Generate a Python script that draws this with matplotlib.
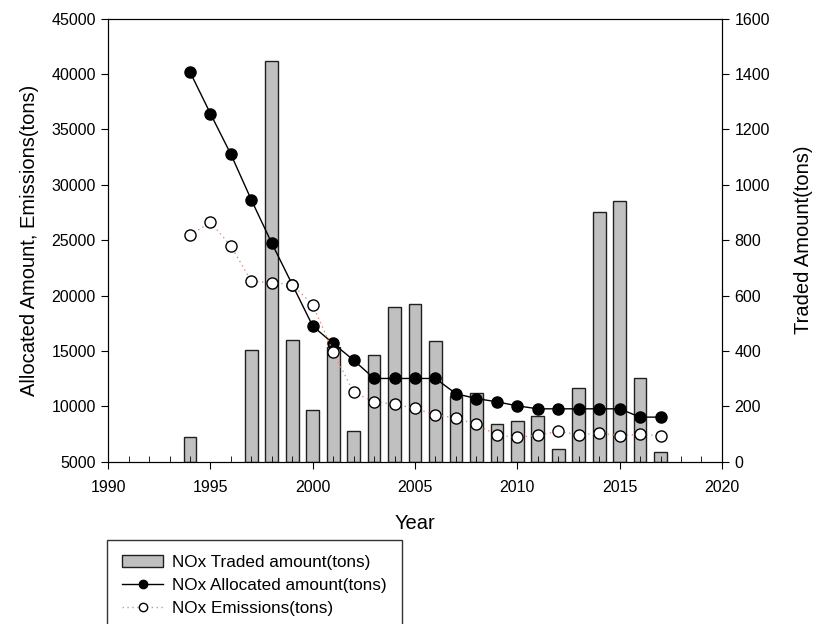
import matplotlib.pyplot as plt
from matplotlib.ticker import MultipleLocator

plt.rcParams['font.family'] = ['Liberation Sans', 'DejaVu Sans']

years = list(range(1994, 2018))
allocated = [40200, 36430, 32760, 28640, 24730, 21000, 17250, 15680, 14170, 12520,
             12520, 12520, 12520, 11140, 10710, 10410, 10050, 9780, 9780, 9780,
             9780, 9780, 9030, 9030]
emissions = [25450, 26620, 24490, 21300, 21180, 20970, 19170, 14930, 11260, 10410,
             10200, 9810, 9240, 8940, 8370, 7410, 7200, 7410, 7740, 7440,
             7590, 7350, 7470, 7350]
trade_years = [1994, 1997, 1998, 1999, 2000, 2001, 2002, 2003, 2004, 2005, 2006,
               2007, 2008, 2009, 2010, 2011, 2012, 2013, 2014, 2015, 2016, 2017]
traded = [89, 405, 1446, 439, 188, 415, 111, 387, 558, 568, 435,
          237, 249, 137, 149, 164, 47, 266, 901, 940, 303, 34]

fig = plt.figure(figsize=(8.13, 6.24), dpi=100)
ax = fig.add_axes([0.133, 0.26, 0.755, 0.71])
ax2 = ax.twinx()
ax.set_zorder(ax2.get_zorder() + 1)
ax.patch.set_visible(False)

bars = ax2.bar(trade_years, traded, width=0.62, color='#c0c0c0', edgecolor='#202020',
               linewidth=1.0, label='NOx Traded amount(tons)')
l1, = ax.plot(years, allocated, '-o', color='black', markerfacecolor='black',
              markeredgecolor='black', markersize=8, linewidth=1.0,
              label='NOx Allocated amount(tons)')
l2, = ax.plot(years, emissions, 'o', linestyle=(0, (1, 2.5)), color='#e0907f',
              markerfacecolor='white', markeredgecolor='black', markersize=8,
              linewidth=1.0, label='NOx Emissions(tons)')

ax.set_xlim(1990, 2020)
ax.set_ylim(5000, 45000)
ax2.set_ylim(0, 1600)
ax.xaxis.set_major_locator(MultipleLocator(5))
ax.xaxis.set_minor_locator(MultipleLocator(1))
ax.yaxis.set_major_locator(MultipleLocator(5000))
ax2.yaxis.set_major_locator(MultipleLocator(200))
ax.tick_params(axis='x', which='major', direction='out', length=5, labelsize=11.5, pad=8)
ax.tick_params(axis='x', which='minor', direction='in', length=4)
ax.tick_params(axis='y', direction='out', length=5, labelsize=11.5, pad=4)
ax2.tick_params(axis='y', direction='out', length=5, labelsize=11.5, pad=4)

ax.set_xlabel('Year', fontsize=14.5, labelpad=14)
ax.set_ylabel('Allocated Amount, Emissions(tons)', fontsize=14.5, labelpad=9)
ax2.set_ylabel('Traded Amount(tons)', fontsize=14.5, labelpad=17)

leg = fig.legend(handles=[bars, l1, l2], loc='upper left',
                 bbox_to_anchor=(107 / 813, 1 - 540 / 624), borderaxespad=0,
                 fontsize=12.3, frameon=True, fancybox=False, edgecolor='black',
                 borderpad=0.9, handlelength=2.4, handletextpad=0.5,
                 labelspacing=0.45)
leg.get_frame().set_linewidth(1.0)
for h in leg.legend_handles[1:]:
    h.set_markersize(6)

fig.savefig('out.png', dpi=100)
